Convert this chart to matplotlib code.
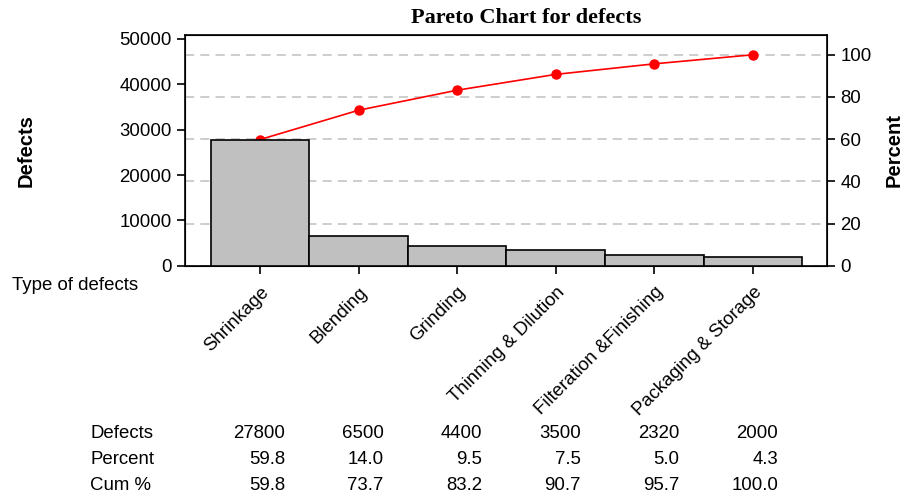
import matplotlib
matplotlib.use("Agg")
import matplotlib.pyplot as plt

# Dados
categories = ["Shrinkage", "Blending", "Grinding", "Thinning & Dilution",
              "Filteration &Finishing", "Packaging & Storage"]
defects = [27800, 6500, 4400, 3500, 2320, 2000]
percent = [59.8, 14.0, 9.5, 7.5, 5.0, 4.3]
cum_pct = [59.8, 73.7, 83.2, 90.7, 95.7, 100.0]

plt.rcParams['font.family'] = ['Liberation Sans', 'DejaVu Sans']
FS = 13.4

fig = plt.figure(figsize=(9.15, 4.96), dpi=100)
ax = fig.add_axes([0.2022, 0.4643, 0.7016, 0.4657])
x = list(range(len(categories)))

ax.bar(x, defects, width=1.0, color='#c0c0c0', edgecolor='black', linewidth=1.2, zorder=3)
ax.set_xlim(-0.76, 5.75)
total = sum(defects)
ax.set_ylim(0, total * 1.095)
ax.set_yticks([0, 10000, 20000, 30000, 40000, 50000])
ax.tick_params(axis='y', labelsize=FS, length=6, width=1.2)
ax.set_xticks(x)
ax.set_xticklabels(categories, rotation=45, ha='right', rotation_mode='anchor', fontsize=FS)
ax.tick_params(axis='x', length=6, width=1.2, pad=7)
for s in ax.spines.values():
    s.set_linewidth(1.2)
ax.set_ylabel('Defects', fontsize=14.5, fontweight='bold')
ax.yaxis.set_label_coords((36 - 185) / 642, 0.5)

ax2 = ax.twinx()
ax2.set_ylim(0, 109.5)
ax2.set_yticks([0, 20, 40, 60, 80, 100])
ax2.tick_params(axis='y', labelsize=FS, length=6, width=1.2)
ax2.yaxis.grid(True, linestyle=(0, (6, 4)), color='#c0c0c0', linewidth=1.1)
ax2.plot(x, cum_pct, color='red', linewidth=1.2, marker='o', markersize=6.5, zorder=4)
ax2.set_ylabel('Percent', fontsize=14.5, fontweight='bold')
ax2.yaxis.set_label_coords((885 - 185) / 642, 0.5)
ax.set_zorder(ax2.get_zorder() + 1)
ax.patch.set_visible(False)

fig.text(526 / 915, 1 - 18 / 496, 'Pareto Chart for defects', family='Liberation Serif',
         fontweight='bold', fontsize=16, ha='center', va='center')
fig.text(12 / 915, 1 - 285 / 496, 'Type of defects', fontsize=FS, ha='left', va='center')

# Tabela embaixo
rows = [("Defects", [str(v) for v in defects]),
        ("Percent", [f"{v:.1f}" for v in percent]),
        ("Cum %", [f"{v:.1f}" for v in cum_pct])]
row_y = [434, 460, 486]
for (label, vals), yy in zip(rows, row_y):
    fig.text(90 / 915, 1 - yy / 496, label, fontsize=FS, ha='left', va='center')
    for xi, v in zip(x, vals):
        xp = ax.transData.transform((xi, 0))[0] + 25
        fig.text(xp / 915, 1 - yy / 496, v, fontsize=FS, ha='right', va='center')

fig.savefig('out.png', dpi=100)
